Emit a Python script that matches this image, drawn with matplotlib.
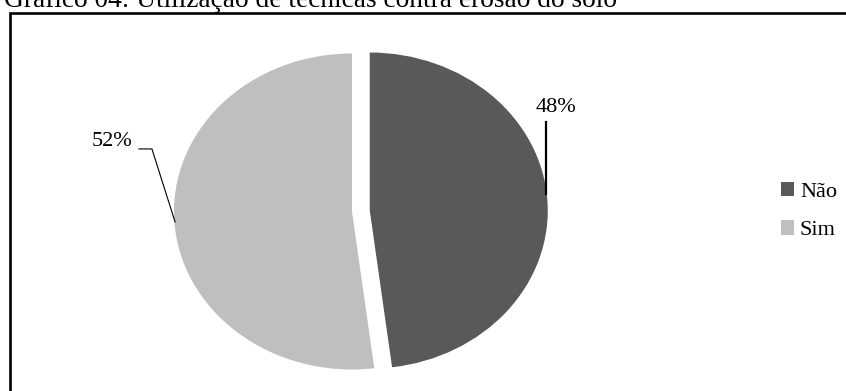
import matplotlib
matplotlib.use("Agg")
import matplotlib.pyplot as plt
from matplotlib.patches import Rectangle

# data
labels = ["Não", "Sim"]
values = [48, 52]
colors = ["#595959", "#bfbfbf"]
title = "Gráfico 04: Utilização de técnicas contra erosão do solo"

W, H = 846, 391
plt.rcParams['font.family'] = ['Liberation Serif', 'DejaVu Serif']

fig = plt.figure(figsize=(W / 100, H / 100), dpi=100)

# pie centre and radii in pixels (slightly wider than tall, like the source)
cx, cy = 352, 211.5
rx, ry = 178, 158
xlim = (-1.5, 1.5)
ylim = (-1.1, 1.1)
ax_w = (xlim[1] - xlim[0]) * rx
ax_h = (ylim[1] - ylim[0]) * ry
left = cx + xlim[0] * rx
bottom = (H - cy) + ylim[0] * ry
ax = fig.add_axes([left / W, bottom / H, ax_w / W, ax_h / H])

wedges, _ = ax.pie(values, colors=colors, startangle=90, counterclock=False,
                   explode=[0.1, 0], wedgeprops=dict(linewidth=0))
ax.set_aspect('auto')
ax.set_xlim(*xlim)
ax.set_ylim(*ylim)
ax.axis('off')

# percentage labels with leader lines
ax.text(1.146, 0.661, "{}%".format(values[0]), ha='center', va='center', fontsize=16)
ax.plot([1.09, 1.09], [0.566, 0.11], color='black', linewidth=1.6)
ax.text(-1.348, 0.446, "{}%".format(values[1]), ha='center', va='center', fontsize=16)
ax.plot([-1.197, -1.124, -0.994], [0.396, 0.396, -0.066], color='black', linewidth=0.8)

# legend
leg = fig.legend(wedges, labels, loc='center left', bbox_to_anchor=(761 / W, 1 - 211 / H),
                 frameon=False, fontsize=16, handlelength=0.6, handleheight=0.6,
                 handletextpad=0.25, labelspacing=0.85)

# border box (runs off the right and bottom edges)
fig.patches.append(Rectangle((9.5 / W, -0.05), 1.1, 1 - 13 / H + 0.05, transform=fig.transFigure,
                             fill=False, edgecolor='black', linewidth=1.9))

# title, cut off at the top of the image
fig.text(4 / W, 1 - 7 / H, title, ha='left', va='baseline', fontsize=19.7)

fig.savefig("out.png", dpi=100)
